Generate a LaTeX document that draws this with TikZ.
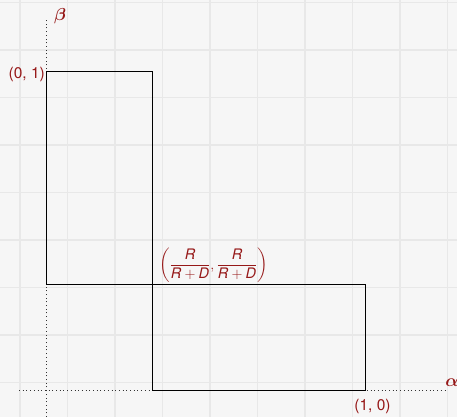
\documentclass[tikz,border=0pt]{standalone}
\usepackage{amsmath}
\usepackage{fontspec}
\setmainfont{TeX Gyre Heros}
\definecolor{bg}{RGB}{246,246,246}
\definecolor{gridc}{RGB}{232,232,232}
\definecolor{lab}{RGB}{150,24,24}
\begin{document}
\begin{tikzpicture}[x=1pt,y=-1pt,
  lbl/.style={text=lab, font=\fontsize{14.5}{17}\selectfont, inner sep=1pt},
  clbl/.style={text=lab, font=\fontsize{15.5}{18}\selectfont, inner sep=1pt},
  glbl/.style={text=lab, font=\fontsize{17.28}{20}\selectfont, inner sep=1pt},
  axisline/.style={line width=1pt, dash pattern=on 1pt off 2.7pt, black!80},
  boxline/.style={line width=1pt, black},
  gridline/.style={gridc, line width=1.5pt}]
\fill[bg] (0,0) rectangle (457,417);
\useasboundingbox (0,0) rectangle (457,417);
\foreach \x in {20,67.5,...,450} \draw[gridline] (\x,0) -- (\x,417);
\foreach \y in {2.5,50,...,417} \draw[gridline] (0,\y) -- (457,\y);
% key points
\coordinate (O) at (46,390);
\coordinate (A) at (46,72);
\coordinate (B) at (152,72);
\coordinate (C) at (152,284);
\coordinate (P) at (46,284);
\coordinate (E) at (365,284);
\coordinate (F) at (365,390);
\coordinate (G) at (152,390);
\coordinate (xs) at (19,390);
\coordinate (xe) at (445,390);
\coordinate (ys) at (46,417);
\coordinate (ye) at (46,18);
% axes
\draw[axisline] (xs) -- (xe);
\draw[axisline] (ys) -- (ye);
% rectangles
\draw[boxline] (P) rectangle (B);
\draw[boxline] (G) rectangle (E);
% labels
\node[clbl, anchor=east] (l01) at (46,74) {(0, 1)};
\node[clbl] (l10) at (372.5,406.5) {(1, 0)};
\node[lbl] (lfr) at (213.5,265.5) {$\left(\dfrac{\textit{R}}{\textit{R}+\textit{D}},\dfrac{\textit{R}}{\textit{R}+\textit{D}}\right)$};
\node[glbl] (la) at (452,383) {$\boldsymbol{\alpha}$};
\node[glbl] (lb) at (60,16) {$\boldsymbol{\beta}$};
\end{tikzpicture}
\end{document}
